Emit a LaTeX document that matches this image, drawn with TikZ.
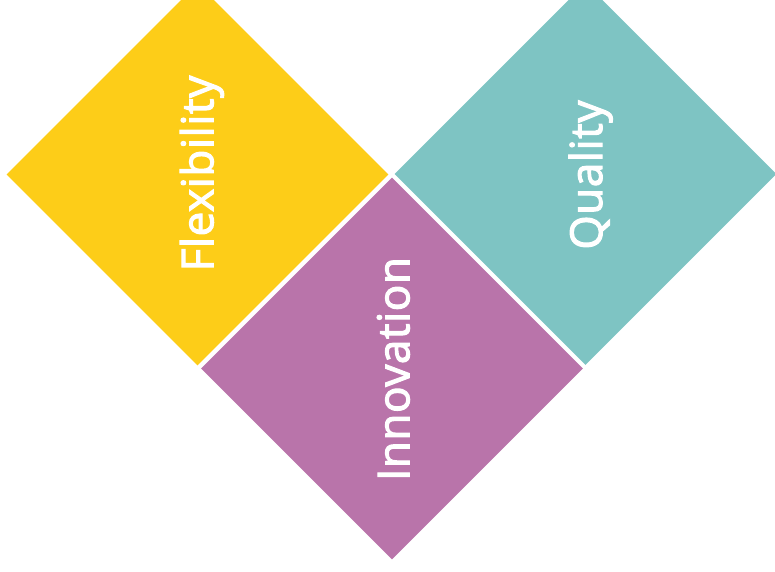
\documentclass[tikz,border=0pt]{standalone}
\usepackage{fontspec}
\setmainfont{Open Sans}
\newfontfamily\wordfont{Open Sans}[LetterSpace=1.3, BoldFont=Open Sans, BoldFeatures={FakeBold=2.5, LetterSpace=1.3}]
\usetikzlibrary{shapes.geometric}
\definecolor{flexyellow}{RGB}{253,205,24}
\definecolor{qualteal}{RGB}{126,196,195}
\definecolor{innovpurple}{RGB}{185,116,170}
\tikzstyle{tile}=[diamond,aspect=1,inner sep=0pt,minimum size=382pt]
\tikzstyle{word}=[text=white,rotate=90,inner sep=0pt,anchor=base,font=\wordfont\bfseries\fontsize{44}{50}\selectfont]

\begin{document}
\begin{tikzpicture}[x=1pt,y=-1pt]

    \useasboundingbox (0,0) rectangle (775,571);

     \foreach \x/\y/\name/\col in {197.5/174.5/flex/flexyellow, 585.5/174/qual/qualteal, 392/368.5/innov/innovpurple}
        \node[tile, fill=\col] (\name) at (\x, \y) {};

    % words sit on their baseline, a bit right of the middle
     \foreach \name/\dx/\dy/\word in {flex/15.8/-1/Flexibility, qual/16.5/1/Quality, innov/17.3/0.5/Innovation}
        \node[word] (\name-word) at ([xshift=\dx pt, yshift=-\dy pt]\name.center) {\word};

   \end{tikzpicture}
\end{document}
